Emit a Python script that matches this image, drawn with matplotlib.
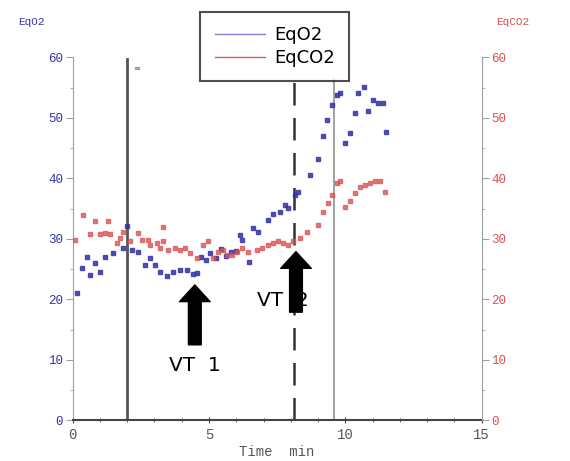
import matplotlib
matplotlib.use("Agg")
import matplotlib.pyplot as plt
from matplotlib.ticker import MultipleLocator

# ---- data ----
time_o2 = [0.15, 0.33, 0.51, 0.63, 0.82, 1.00, 1.18, 1.49, 1.86, 1.98, 2.16, 2.41,
           2.65, 2.83, 3.02, 3.20, 3.45, 3.69, 3.93, 4.18, 4.42, 4.55, 4.72, 4.90,
           5.05, 5.25, 5.45, 5.62, 5.82, 6.00, 6.14, 6.20, 6.45, 6.62, 6.81, 7.17,
           7.36, 7.60, 7.78, 7.90, 8.15, 8.25, 8.70, 9.00, 9.17, 9.34, 9.50, 9.68,
           9.80, 9.99, 10.17, 10.35, 10.47, 10.68, 10.84, 11.02, 11.21, 11.37, 11.49]
eqo2 = [21.0, 25.2, 27.0, 24.0, 26.1, 24.6, 27.1, 27.6, 28.5, 32.1, 28.2, 27.9,
        25.7, 26.8, 25.7, 24.6, 23.9, 24.6, 24.9, 24.9, 24.2, 24.3, 27.0, 26.5,
        27.6, 26.8, 28.4, 27.2, 27.8, 28.0, 30.7, 29.8, 26.2, 31.8, 31.2, 33.1,
        34.2, 34.5, 35.6, 35.1, 37.3, 37.8, 40.6, 43.2, 47.0, 49.7, 52.1, 53.8,
        54.2, 45.9, 47.5, 50.8, 54.1, 55.2, 51.2, 52.9, 52.5, 52.5, 47.6]

time_co2 = [0.08, 0.39, 0.63, 0.82, 1.00, 1.18, 1.31, 1.37, 1.61, 1.73, 1.86, 2.10,
            2.41, 2.53, 2.77, 2.83, 3.08, 3.20, 3.32, 3.32, 3.51, 3.75, 3.93, 4.12,
            4.30, 4.55, 4.79, 4.97, 5.16, 5.34, 5.52, 5.65, 5.83, 6.01, 6.20, 6.44,
            6.75, 6.93, 7.17, 7.36, 7.54, 7.72, 7.91, 8.09, 8.34, 8.60, 9.00, 9.19,
            9.37, 9.50, 9.68, 9.80, 9.99, 10.17, 10.35, 10.54, 10.72, 10.90, 11.09,
            11.27, 11.45]
eqco2 = [29.8, 34.0, 30.9, 32.9, 30.9, 31.0, 32.9, 30.9, 29.3, 30.1, 31.2, 29.6,
         31.0, 29.8, 29.8, 29.0, 29.3, 28.5, 32.0, 29.6, 28.2, 28.5, 28.2, 28.5,
         27.6, 26.8, 29.0, 29.6, 26.8, 27.9, 28.2, 27.4, 27.4, 27.9, 28.5, 27.9,
         28.2, 28.5, 29.0, 29.3, 29.6, 29.3, 29.0, 29.6, 30.1, 31.2, 32.3, 34.5,
         35.9, 37.3, 39.2, 39.5, 35.3, 36.2, 37.6, 38.6, 39.0, 39.2, 39.5, 39.5,
         37.8]

x_ticks = [0, 5, 10, 15]
y_ticks = [0, 10, 20, 30, 40, 50, 60]
event_solid = 2.0
event_dashed = 8.1
event_gray = 9.6
vt1 = (4.48, 22.4)
vt2 = (8.19, 27.9)

BLUE = "#3535a8"
RED = "#d85050"
MONO = "Liberation Mono"

fig = plt.figure(figsize=(5.70, 4.61), dpi=100)
ax = fig.add_axes([0.1275, 0.088, 0.7175, 0.7873])
ax2 = ax.twinx()

ax.set_xlim(0, 15)
ax.set_ylim(0, 60)
ax2.set_ylim(0, 60)

# scatter data
ax.plot(time_o2, eqo2, linestyle="none", marker="s", markersize=2.2,
        color=BLUE, alpha=0.85, zorder=3)
ax.plot(time_co2, eqco2, linestyle="none", marker="s", markersize=2.2,
        color=RED, alpha=0.75, zorder=3)

# event lines
ax.plot([event_solid, event_solid], [0, 59.8], color="#555555", lw=2.0, zorder=2)
ax.text(event_solid + 0.2, 59.0, "≡", fontsize=6, color="#666666", va="top")
ax.plot([event_dashed, event_dashed], [0, 56.5], color="#333333", lw=1.8,
        dashes=(9, 5), zorder=2)
ax.plot([event_gray, event_gray], [0, 56.5], color="#9a9a9a", lw=1.3, zorder=2)

# arrows and labels
arrow_style = "simple,head_length=0.6,head_width=1.1,tail_width=0.46"
ax.annotate("", xy=vt1, xytext=(vt1[0], 12.5),
            arrowprops=dict(arrowstyle=arrow_style, color="black",
                            mutation_scale=20, shrinkA=0, shrinkB=0), zorder=5)
ax.text(vt1[0], 9.0, "VT  1", fontsize=14.5, ha="center", va="center", zorder=5)
ax.annotate("", xy=vt2, xytext=(vt2[0], 17.9),
            arrowprops=dict(arrowstyle=arrow_style, color="black",
                            mutation_scale=20, shrinkA=0, shrinkB=0), zorder=5)
ax.text(7.72, 19.9, "VT  2", fontsize=14.5, ha="center", va="center", zorder=6)

# axes styling
for a in (ax, ax2):
    a.spines["top"].set_visible(False)
ax.spines["right"].set_visible(False)
ax.spines["left"].set_color("#a0a0a0")
ax.spines["bottom"].set_color("#444444")
ax.spines["bottom"].set_linewidth(1.5)
ax2.spines["left"].set_visible(False)
ax2.spines["bottom"].set_visible(False)
ax2.spines["right"].set_color("#a0a0a0")

ax.set_xticks(x_ticks)
ax.set_xticklabels([str(t) for t in x_ticks])
ax.xaxis.set_minor_locator(MultipleLocator(1))
ax.set_yticks(y_ticks)
ax.yaxis.set_minor_locator(MultipleLocator(5))
ax2.set_yticks(y_ticks)
ax2.yaxis.set_minor_locator(MultipleLocator(5))

ax.tick_params(axis="x", which="major", direction="inout", length=5, color="#444444",
               labelsize=10, labelcolor="#555555", pad=3)
ax.tick_params(axis="x", which="minor", direction="inout", length=3, color="#444444")
ax.tick_params(axis="y", which="major", length=5, color="#a0a0a0",
               labelsize=9, labelcolor=BLUE, pad=2)
ax.tick_params(axis="y", which="minor", length=2.5, color="#a0a0a0")
ax2.tick_params(axis="y", which="major", length=5, color="#a0a0a0",
                labelsize=9, labelcolor=RED, pad=2)
ax2.tick_params(axis="y", which="minor", length=2.5, color="#a0a0a0")

for lab in ax.get_xticklabels() + ax.get_yticklabels() + ax2.get_yticklabels():
    lab.set_fontfamily(MONO)

ax.set_xlabel("Time  min", fontsize=10, family=MONO, color="#555555", labelpad=2)

fig.text(0.032, 0.952, "EqO2", fontsize=8, color=BLUE, family=MONO, ha="left", va="center")
fig.text(0.87, 0.952, "EqCO2", fontsize=8, color=RED, family=MONO, ha="left", va="center")

# legend
h1, = ax.plot([], [], color="#8080d0", lw=1.0, label="EqO2")
h2, = ax.plot([], [], color="#d06060", lw=1.0, label="EqCO2")
leg = fig.legend(handles=[h1, h2], loc="upper left", bbox_to_anchor=(0.351, 0.974),
                 fontsize=13, frameon=True, fancybox=False, handlelength=2.8,
                 borderpad=0.8, labelspacing=0.25, handletextpad=0.5,
                 borderaxespad=0)
leg.get_frame().set_edgecolor("#222222")
leg.get_frame().set_linewidth(1.5)
leg.set_zorder(10)

fig.savefig("out.png", dpi=100)
